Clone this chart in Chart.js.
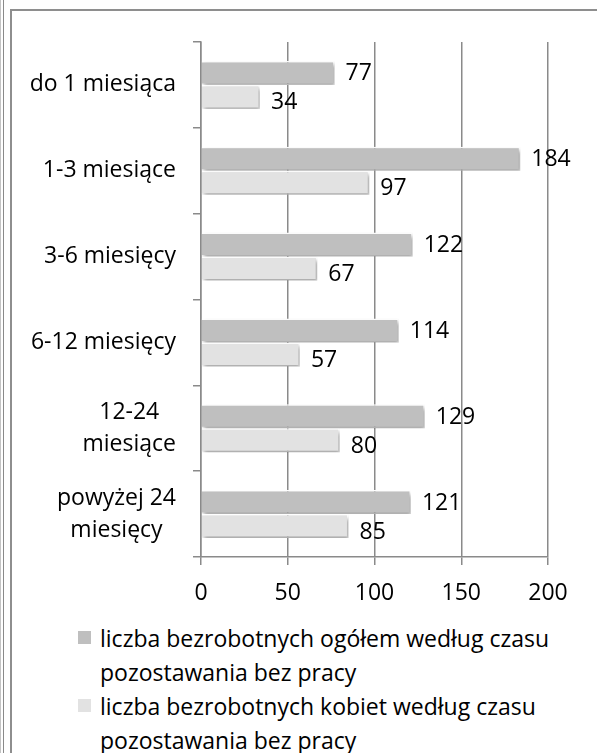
<!DOCTYPE html>
<html>
<head>
<meta charset="utf-8">
<script src="https://cdn.jsdelivr.net/npm/chart.js@4/dist/chart.umd.min.js"></script>
<style>
  body { margin: 0; background: #fff; width: 597px; height: 753px; overflow: hidden; position: relative; font-family: "Open Sans", sans-serif; }
  .line { position: absolute; }
  #wrap { position: absolute; left: 0; top: 0; width: 597px; height: 620px; }
  #legend { position: absolute; left: 78px; top: 621px; width: 515px; font-size: 23px; color: #000; line-height: 34px; }
  #legend .item { position: relative; padding-left: 22px; }
  #legend .box { position: absolute; left: 0; top: 10px; width: 13px; height: 13px; }
</style>
</head>
<body>
<div class="line" style="left:0;top:0;width:1px;height:753px;background:#c4c4c4"></div>
<div class="line" style="left:3px;top:0;width:1px;height:753px;background:#8a8a8a"></div>
<div class="line" style="left:10px;top:9px;width:2px;height:744px;background:#8e8e8e"></div>
<div class="line" style="left:10px;top:9px;width:587px;height:2px;background:#8e8e8e"></div>
<div id="wrap"><canvas id="czasChart"></canvas></div>
<div id="legend"></div>
<script>
var categories = ['do 1 miesiąca', '1-3 miesiące', '3-6 miesięcy', '6-12 miesięcy', ['12-24', 'miesiące'], ['powyżej 24', 'miesięcy']];
var ogolem = [77, 184, 122, 114, 129, 121];
var kobiety = [34, 97, 67, 57, 80, 85];
var seriesNames = ['liczba bezrobotnych ogółem według czasu pozostawania bez pracy',
                   'liczba bezrobotnych kobiet według czasu pozostawania bez pracy'];
var seriesColors = ['#bfbfbf', '#e2e2e2'];
var xTicks = [0, 50, 100, 150, 200];

var FONT = '"Open Sans", sans-serif';

// bar shadow like the Excel original
var shadowPlugin = {
    id: 'barShadow',
    beforeDatasetDraw: function(chart) {
        var ctx = chart.ctx;
        ctx.save();
        ctx.shadowColor = 'rgba(0,0,0,0.35)';
        ctx.shadowBlur = 4;
        ctx.shadowOffsetX = 2;
        ctx.shadowOffsetY = 3;
    },
    afterDatasetDraw: function(chart) {
        chart.ctx.restore();
    }
};

// value labels next to bar ends
var labelPlugin = {
    id: 'valueLabels',
    afterDatasetsDraw: function(chart) {
        var ctx = chart.ctx;
        var dy = [1, 6];
        ctx.save();
        ctx.font = '23px ' + FONT;
        ctx.fillStyle = '#000';
        ctx.textAlign = 'left';
        ctx.textBaseline = 'middle';
        chart.data.datasets.forEach(function(ds, i) {
            chart.getDatasetMeta(i).data.forEach(function(bar, j) {
                ctx.fillText(ds.data[j], bar.x + 11, bar.y + dy[i]);
            });
        });
        ctx.restore();
    }
};

// category labels: block right aligned, lines centred
var catPlugin = {
    id: 'catLabels',
    afterDraw: function(chart) {
        var ctx = chart.ctx;
        var y = chart.scales.y;
        ctx.save();
        ctx.font = '23px ' + FONT;
        ctx.fillStyle = '#000';
        ctx.textAlign = 'center';
        ctx.textBaseline = 'middle';
        categories.forEach(function(lab, i) {
            var lines = Array.isArray(lab) ? lab : [lab];
            var w = Math.max.apply(null, lines.map(function(l) { return ctx.measureText(l).width; }));
            var cx = 176 - w / 2;
            var cy = y.getPixelForValue(i);
            var lh = 32;
            lines.forEach(function(l, k) {
                ctx.fillText(l, cx, cy + (k - (lines.length - 1) / 2) * lh);
            });
        });
        ctx.restore();
    }
};

var ctx = document.getElementById('czasChart');
var czasChart = new Chart(ctx, {
    type: 'bar',
    data: {
        labels: categories,
        datasets: [{
            label: seriesNames[0],
            data: ogolem,
            backgroundColor: seriesColors[0],
            borderColor: '#ffffff',
            borderWidth: 1.5
        }, {
            label: seriesNames[1],
            data: kobiety,
            backgroundColor: seriesColors[1],
            borderColor: '#ffffff',
            borderWidth: 1.5
        }]
    },
    options: {
        indexAxis: 'y',
        responsive: true,
        maintainAspectRatio: false,
        animation: false,
        layout: { padding: { left: 0, top: 42, right: 49, bottom: 0 } },
        categoryPercentage: 0.56,
        barPercentage: 1,
        plugins: {
            legend: { display: false },
            tooltip: { enabled: false }
        },
        scales: {
            x: {
                min: 0,
                max: 200,
                afterBuildTicks: function(scale) {
                    scale.ticks = xTicks.map(function(v) { return { value: v }; });
                },
                afterFit: function(scale) { scale.height = 63; },
                grid: { color: '#8a8a8a', lineWidth: 1.5, tickLength: 8 },
                border: { color: '#8a8a8a', width: 1.5 },
                ticks: { font: { family: FONT, size: 23 }, color: '#000', padding: 15 }
            },
            y: {
                afterFit: function(scale) { scale.width = 201; },
                grid: { drawOnChartArea: false, color: '#8a8a8a', lineWidth: 1.5, tickLength: 8 },
                border: { color: '#8a8a8a', width: 1.5 },
                ticks: { display: false }
            }
        }
    },
    plugins: [shadowPlugin, labelPlugin, catPlugin]
});

// legend with wrapped text
var leg = document.getElementById('legend');
seriesNames.forEach(function(name, i) {
    var parts = name.split(' czasu ');
    var div = document.createElement('div');
    div.className = 'item';
    div.innerHTML = '<span class="box" style="background:' + seriesColors[i] + '"></span>' +
        parts[0] + ' czasu<br>' + parts[1];
    leg.appendChild(div);
});
</script>
</body>
</html>
